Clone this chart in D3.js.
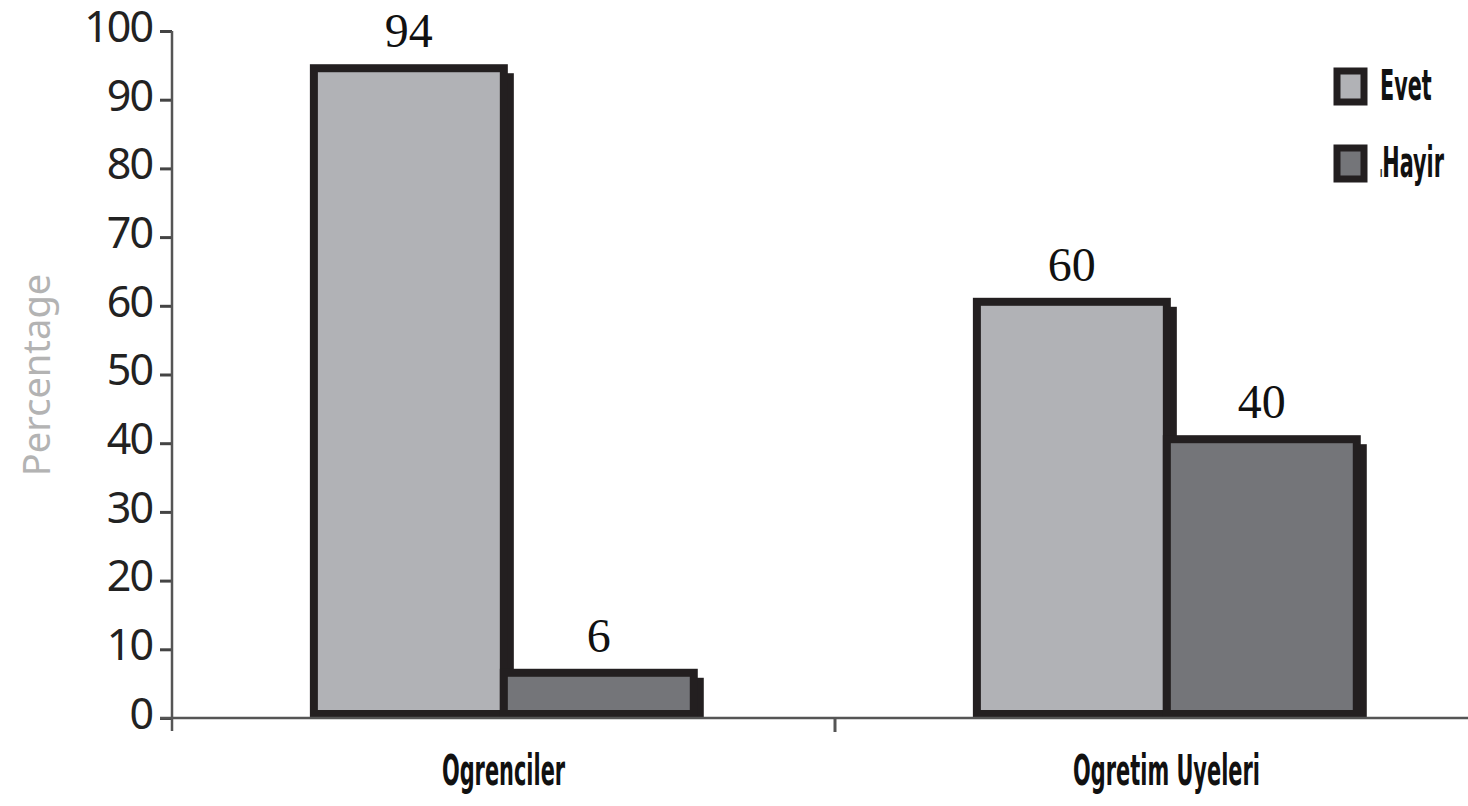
<!DOCTYPE html>
<html>
<head>
<meta charset="utf-8">
<script src="https://cdn.jsdelivr.net/npm/d3@7"></script>
<style>
  body { margin: 0; background: #fff; }
  .cond { font-family: "DejaVu Sans Condensed", "DejaVu Sans", sans-serif; font-weight: bold; }
</style>
</head>
<body>
<div id="chart"></div>
<script>
var categories = ["Ogrenciler", "Ogretim Uyeleri"];
var series = ["Evet", "Hayir"];
var evetValues = [94, 60];
var hayirValues = [6, 40];
var yTicks = [0, 10, 20, 30, 40, 50, 60, 70, 80, 90, 100];
var colors = ["#b1b2b6", "#747579"];

var width = 1468, height = 806;
var ink = "#231f20";

var svg = d3.select("#chart").append("svg")
	.attr("width", width)
	.attr("height", height);

var y = d3.scaleLinear().domain([0, 100]).range([718, 31]);
var x0 = d3.scaleBand().domain(categories).range([172, 1498]).padding(0);
var bw = x0.bandwidth();
var x1 = d3.scaleBand().domain(series).range([bw * 0.214, bw * 0.787]).padding(0);

var rows = [];
categories.forEach(function(c, i){
	rows.push({cat: c, s: series[0], v: evetValues[i]});
	rows.push({cat: c, s: series[1], v: hayirValues[i]});
});

// shadows first so the bars sit on top of them
svg.append("g").selectAll("rect")
	.data(rows).enter().append("rect")
	.attr("x", function(d){ return x0(d.cat) + x1(d.s) + 6 - 4; })
	.attr("y", function(d){ return y(d.v) - 8 + 9; })
	.attr("width", x1.bandwidth() + 8)
	.attr("height", function(d){ return y(0) - y(d.v) - 1; })
	.attr("fill", ink);

svg.append("g").selectAll("rect")
	.data(rows).enter().append("rect")
	.attr("x", function(d){ return x0(d.cat) + x1(d.s); })
	.attr("y", function(d){ return y(d.v) - 4; })
	.attr("width", x1.bandwidth())
	.attr("height", function(d){ return y(0) - y(d.v); })
	.attr("fill", function(d){ return colors[series.indexOf(d.s)]; })
	.attr("stroke", ink)
	.attr("stroke-width", 8);

// value labels
svg.append("g").selectAll("text")
	.data(rows).enter().append("text")
	.attr("x", function(d){ return x0(d.cat) + x1(d.s) + x1.bandwidth() / 2; })
	.attr("y", function(d){ return y(d.v) - 25; })
	.attr("text-anchor", "middle")
	.attr("font-family", "Liberation Serif, serif")
	.attr("font-size", 48)
	.attr("fill", "#111")
	.text(function(d){ return d.v; });

// y axis
var yAxis = svg.append("g")
	.attr("transform", "translate(172,0)")
	.call(d3.axisLeft(y).tickValues(yTicks).tickSize(12).tickPadding(8));
yAxis.select(".domain").remove();
yAxis.selectAll(".tick line").attr("stroke", "#444").attr("stroke-width", 3);
yAxis.selectAll(".tick text")
	.attr("font-family", "Noto Sans, sans-serif")
	.attr("font-size", 43)
	.attr("letter-spacing", -2)
	.attr("fill", "#222")
	.attr("dy", "0.24em");

svg.append("line")
	.attr("x1", 172).attr("x2", 172)
	.attr("y1", y(100)).attr("y2", 731)
	.attr("stroke", "#555").attr("stroke-width", 2.5);

// x axis
svg.append("line")
	.attr("x1", 160).attr("x2", width)
	.attr("y1", y(0)).attr("y2", y(0))
	.attr("stroke", "#555").attr("stroke-width", 2.5);

svg.append("g").selectAll("line")
	.data(categories.slice(1)).enter().append("line")
	.attr("x1", function(d){ return x0(d); })
	.attr("x2", function(d){ return x0(d); })
	.attr("y1", y(0)).attr("y2", 732)
	.attr("stroke", "#555").attr("stroke-width", 3);

var xAxis = svg.append("g")
	.attr("transform", "translate(0," + y(0) + ")")
	.call(d3.axisBottom(x0).tickSize(0).tickPadding(0));
xAxis.select(".domain").remove();
xAxis.selectAll(".tick text")
	.attr("class", "cond")
	.attr("font-size", 43)
	.attr("fill", "#111")
	.attr("y", 67)
	.attr("dy", 0)
	.attr("transform", "scale(0.54,1)");

// y title
svg.append("text")
	.attr("transform", "translate(50,375) rotate(-90)")
	.attr("text-anchor", "middle")
	.attr("font-family", "Noto Sans, sans-serif")
	.attr("font-size", 38)
	.attr("fill", "#b3b3b3")
	.text("Percentage");

// legend
var legend = svg.append("g").attr("transform", "translate(1337,71)");
var item = legend.selectAll("g")
	.data(series).enter().append("g")
	.attr("transform", function(d, i){ return "translate(0," + (i * 77) + ")"; });
item.append("rect")
	.attr("width", 27).attr("height", 31)
	.attr("fill", function(d, i){ return colors[i]; })
	.attr("stroke", ink)
	.attr("stroke-width", 7);
item.append("text")
	.attr("class", "cond")
	.attr("font-size", 42)
	.attr("fill", "#111")
	.attr("transform", "translate(43,29) scale(0.55,1)")
	.each(function(d, i){
		var t = d3.select(this);
		if (i === 1) t.append("tspan").attr("font-size", 14).text("ı");
		t.append("tspan").text(d);
	});
</script>
</body>
</html>
